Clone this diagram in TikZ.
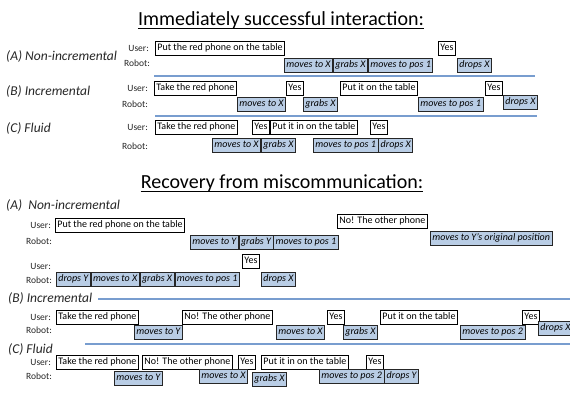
\documentclass[tikz,border=0pt]{standalone}
\usepackage{fontspec}
\setmainfont{Carlito}
\usetikzlibrary{positioning}
\definecolor{robotfill}{RGB}{185,205,229}
\definecolor{sepblue}{RGB}{120,157,207}
\definecolor{labelgray}{RGB}{38,38,38}

\begin{document}
\begin{tikzpicture}[x=1pt,y=-1pt,
  ubox/.style={draw=black,fill=white,line width=0.8pt,anchor=west,
    font=\fontsize{10}{12}\selectfont,inner xsep=2pt,inner ysep=2.5pt,
    text height=7pt,text depth=2pt},
  rbox/.style={ubox,fill=robotfill,draw=black!85,
    font=\fontsize{10}{12}\selectfont\itshape},
  who/.style={anchor=east,inner sep=0pt,text=labelgray,
    font=\fontsize{9.5}{11}\selectfont},
  sect/.style={anchor=west,inner sep=0pt,text=labelgray,
    font=\fontsize{13.5}{16}\selectfont\itshape},
  ttl/.style={inner sep=0pt,font=\fontsize{20}{24}\selectfont},
  uline/.style={line width=1.2pt},
  sep/.style={sepblue,line width=1.2pt}]
\useasboundingbox (0,0) rectangle (570,394);

% immediately successful interaction
\node[ttl] (title1) at (281,20) {Immediately successful interaction:};
\draw[uline] ([yshift=-3pt]title1.base west) -- ([yshift=-3pt]title1.base east);

% (A) non-incremental
\node[sect] (secta1) at (6,56) {(A) Non-incremental};
\node[who] (usera1) at (149,48) {User:};
\node[who] (robota1) at (150,63) {Robot:};
\node[ubox] (a1u1) at (155,48) {Put the red phone on the table};
\node[ubox] (a1u2) at (438,48) {Yes};
\node[rbox] (a1r1) at (284,65) {moves to X};
\node[rbox,right=0pt of a1r1] (a1r2) {grabs X};
\node[rbox,right=0pt of a1r2] (a1r3) {moves to pos 1};
\node[rbox] (a1r4) at (457,65) {drops X};
\draw[sep] (154,76) -- (535,76);

% (B) incremental
\node[sect] (sectb1) at (6,91) {(B) Incremental};
\node[ubox] (b1u1) at (154,88) {Take the red phone};
\node[ubox] (b1u2) at (286,88) {Yes};
\node[ubox] (b1u3) at (340,88) {Put it on the table};
\node[ubox] (b1u4) at (485,88) {Yes};
\node[rbox] (b1r1) at (237,104) {moves to X};
\node[rbox] (b1r2) at (303,104) {grabs X};
\node[rbox] (b1r3) at (418,104) {moves to pos 1};
\node[rbox] (b1r4) at (503,102) {drops X};
\draw[sep] (155,116) -- (537,116);

% (C) fluid
\node[sect] (sectc1) at (6,128) {(C) Fluid};
\node[ubox] (c1u1) at (155,127) {Take the red phone};
\node[ubox] (c1u2) at (252,127) {Yes};
\node[ubox] (c1u3) at (270,127) {Put it in on the table};
\node[ubox] (c1u4) at (370,127) {Yes};
\node[rbox] (c1r1) at (212,145) {moves to X};
\node[rbox,right=0pt of c1r1] (c1r2) {grabs X};
\node[rbox] (c1r3) at (313,145) {moves to pos 1};
\node[rbox,right=0pt of c1r3] (c1r4) {drops X};

\foreach \n/\yu/\yr in {b1/88/104, c1/127/146}
{       \node[who] (user\n) at (148,\yu) {User:};
        \node[who] (robot\n) at (148,\yr) {Robot:};
}

% recovery from miscommunication
\node[ttl] (title2) at (282,183) {Recovery from miscommunication:};
\draw[uline] ([yshift=-3pt]title2.base west) -- ([yshift=-3pt]title2.base east);

% (A) non-incremental
\node[sect] (secta2) at (6,205) {(A)\ \ Non-incremental};
\node[ubox] (a2u1) at (55,225) {Put the red phone on the table};
\node[ubox] (a2u2) at (337,221) {No! The other phone};
\node[rbox] (a2r1) at (190,242) {moves to Y};
\node[rbox,right=0pt of a2r1] (a2r2) {grabs Y};
\node[rbox,right=0pt of a2r2] (a2r3) {moves to pos 1};
\node[rbox] (a2r4) at (430,238) {moves to Y’s original position};
\node[ubox] (a3u1) at (242,261) {Yes};
\node[rbox] (a3r1) at (56,279) {drops Y};
\node[rbox,right=0pt of a3r1] (a3r2) {moves to X};
\node[rbox,right=0pt of a3r2] (a3r3) {grabs X};
\node[rbox,right=0pt of a3r3] (a3r4) {moves to pos 1};
\node[rbox] (a3r5) at (261,279) {drops X};

% (B) incremental
\node[sect] (sectb2) at (8,298) {(B) Incremental};
\draw[sep] (98,299) -- (570,299);
\node[ubox] (b2u1) at (56,317) {Take the red phone};
\node[ubox] (b2u2) at (182,317) {No! The other phone};
\node[ubox] (b2u3) at (327,317) {Yes};
\node[ubox] (b2u4) at (380,317) {Put it on the table};
\node[ubox] (b2u5) at (522,317) {Yes};
\node[rbox] (b2r1) at (134,332) {moves to Y};
\node[rbox] (b2r2) at (276,332) {moves to X};
\node[rbox] (b2r3) at (343,332) {grabs X};
\node[rbox] (b2r4) at (460,332) {moves to pos 2};
\node[rbox] (b2r5) at (538,328) {drops X};

% (C) fluid
\node[sect] (sectc2) at (8,349) {(C) Fluid};
\draw[sep] (85,344) -- (570,344);
\node[ubox] (c2u1) at (56,362) {Take the red phone};
\node[ubox] (c2u2) at (142,362) {No! The other phone};
\node[ubox] (c2u3) at (238,362) {Yes};
\node[ubox] (c2u4) at (261,362) {Put it in on the table};
\node[ubox] (c2u5) at (366,362) {Yes};
\node[rbox] (c2r1) at (114,378) {moves to Y};
\node[rbox] (c2r2) at (199,376) {moves to X};
\node[rbox] (c2r3) at (252,379) {grabs X};
\node[rbox] (c2r4) at (319,376) {moves to pos 2};
\node[rbox,right=0pt of c2r4] (c2r5) {drops Y};

\foreach \n/\yu/\yr in {a2/225/241, a3/266/280, b2/317/330, c2/362/376}
{       \node[who] (user\n) at (51,\yu) {User:};
        \node[who] (robot\n) at (52,\yr) {Robot:};
}
\end{tikzpicture}
\end{document}
